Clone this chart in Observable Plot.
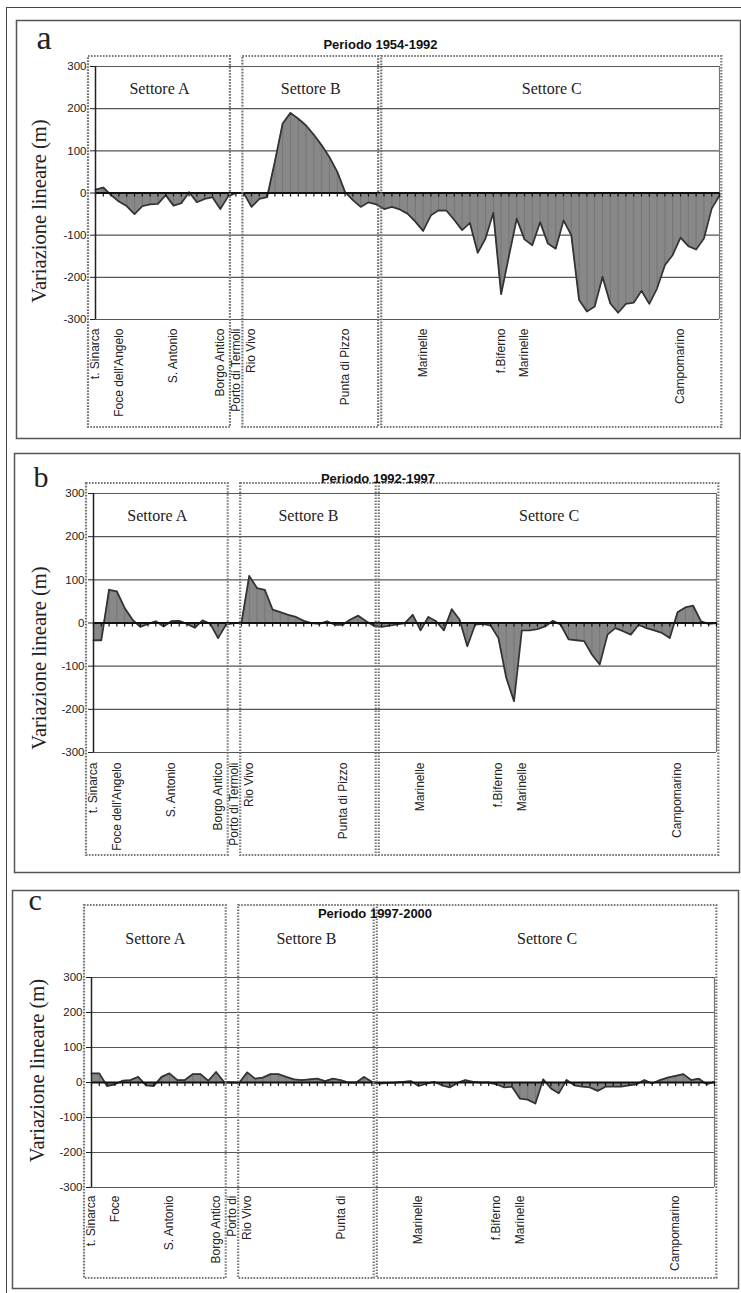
<!DOCTYPE html>
<html><head><meta charset="utf-8">
<script src="https://cdn.jsdelivr.net/npm/d3@7"></script>
<script src="https://cdn.jsdelivr.net/npm/@observablehq/plot@0.6"></script>
<style>
body{margin:0;background:#fff}
#fig{position:relative;width:741px;height:1293px;overflow:hidden;background:#fff}
#outer{position:absolute;left:6px;top:7px;width:740px;height:1290px;border-top:1.5px solid #444;border-left:1.5px solid #444;pointer-events:none}
</style></head><body><div id="fig"></div>
<script>
// transect index 0..80 along the coast
const transects = d3.range(81);
const values1954_1992 = [8,13,-5,-20,-31,-50,-31,-27,-26,-5,-30,-24,2,-22,-14,-10,-38,-8,0,0,
  -33,-14,-10,75,165,190,176,160,138,113,85,50,2,-17,-33,-22,-27,-38,-33,-39,
  -49,-68,-90,-53,-41,-42,-64,-88,-71,-142,-108,-47,-240,-150,-61,-110,-124,-69,-120,-132,
  -65,-100,-254,-281,-269,-199,-262,-284,-263,-260,-232,-263,-226,-171,-147,-106,-126,-134,-108,-37,-6];
const values1992_1997 = [-40,-40,77,73,35,8,-9,-2,4,-8,4,5,-2,-11,6,-2,-35,-4,0,0,
  109,81,77,31,25,19,14,5,0,-2,4,-4,-4,8,17,4,-6,-9,-6,-3,
  0,19,-17,14,4,-17,32,8,-54,-4,-2,-6,-35,-127,-181,-17,-17,-14,-8,5,
  -4,-38,-40,-42,-73,-96,-27,-12,-19,-27,-4,-12,-17,-23,-35,25,36,40,4,-2,0];
const values1997_2000 = [26,26,-10,-5,5,7,16,-8,-10,16,26,7,7,24,24,5,30,2,0,0,
  29,11,14,24,24,16,9,7,9,11,4,11,7,0,0,16,2,-3,-1,0,
  2,4,-10,-3,2,-8,-14,-1,7,2,0,0,-5,-14,-12,-46,-49,-60,9,-17,
  -31,7,-8,-12,-14,-24,-12,-12,-12,-8,-5,7,-3,7,14,19,24,7,11,-5,2];
const yTicks = [-300,-200,-100,0,100,200,300];
const sectorNames = ["Settore A","Settore B","Settore C"];
const sectorStart = [-0.9, 18.9, 36.7];
const sectorEnd = [17.3, 36.3, 80.3];
const placeIndex = [0,3,10,16,18,20,32,42,52,55,75];
const placesAB = ["t. Sinarca","Foce dell'Angelo","S. Antonio","Borgo Antico","Porto di Termoli","Rio Vivo","Punta di Pizzo","Marinelle","f.Biferno","Marinelle","Campomarino"];
const placesC = ["t. Sinarca","Foce","S. Antonio","Borgo Antico","Porto di","Rio Vivo","Punta di","Marinelle","f.Biferno","Marinelle","Campomarino"];
const letters = ["a","b","c"];
const periods = ["Periodo 1954-1992","Periodo 1992-1997","Periodo 1997-2000"];
const yTitle = "Variazione lineare (m)";

const series = [values1954_1992, values1992_1997, values1997_2000];
const placeSets = [placesAB, placesAB, placesC];
const sectors = sectorNames.map((n,k)=>({name:n, x1:sectorStart[k], x2:sectorEnd[k], mid:(sectorStart[k]+sectorEnd[k])/2}));

const layout = [
 {top:0, height:440, mt:66, mb:121, ml:95, mr:22, fr:[-79,-46,-21,-119], st:[-10,-108], let:[-59,-18,34], ti:[-27,-18], yt:[-50,18], sl:27, pd:9},
 {top:440, height:440, mt:53, mb:128, ml:93, mr:25, fr:[-79,-40,-23,-120], st:[-10,-103], let:[-60,-7,30], ti:[-27,-11], yt:[-48,35], sl:27, pd:10},
 {top:880, height:413, mt:97, mb:106, ml:91, mr:27, fr:[-79,-87,-24,-101], st:[-72,-91], let:[-63,-68,30], ti:[-28,-60], yt:[-48,-12], sl:-34, pd:8}
];

const fig = document.getElementById("fig");
const serif = "'Liberation Serif','Times New Roman',serif";
const sans = "'Liberation Sans',Arial,sans-serif";

layout.forEach((L,p)=>{
  const data = transects.map(i=>({i, v: series[p][i]}));
  const places = placeIndex.map((x,k)=>({x, name: placeSets[p][k]}));
  const chart = Plot.plot({
    width: 741, height: L.height,
    marginTop: L.mt, marginBottom: L.mb, marginLeft: L.ml, marginRight: L.mr,
    style: {fontFamily: sans, fontSize: "11.5px", color: "#222", background: "transparent", overflow: "visible"},
    x: {domain: [0, 80], axis: null},
    y: {domain: [-300, 300], ticks: yTicks, tickFormat: d => String(d), tickSize: 5, tickPadding: 4, label: null},
    marks: [
      Plot.frame({insetLeft: L.fr[0], insetTop: L.fr[1], insetRight: L.fr[2], insetBottom: L.fr[3], stroke: "#555", strokeWidth: 1.5}),
      Plot.ruleY(yTicks, {stroke: "#555", strokeWidth: 1.2}),
      Plot.ruleX([80], {stroke: "#777", strokeWidth: 1.2}),
      Plot.areaY(data, {x: "i", y: "v", fill: "#888"}),
      Plot.ruleX(data, {x: "i", y1: 0, y2: "v", stroke: "#727272", strokeWidth: 0.8}),
      Plot.lineY(data, {x: "i", y: "v", stroke: "#333", strokeWidth: 1.8}),
      Plot.ruleY([0], {stroke: "#111", strokeWidth: 2}),
      Plot.ruleX(transects, {x: d => d, y1: 0, y2: 0, insetBottom: -4, stroke: "#111", strokeWidth: 1.2}),
      Plot.ruleX([0], {stroke: "#222", strokeWidth: 1.5}),
      Plot.rect(sectors, {x1: "x1", x2: "x2", insetTop: L.st[0], insetBottom: L.st[1], fill: "none", stroke: "#777", strokeWidth: 2.2, strokeDasharray: "1.6,1.4"}),
      Plot.text(sectors, {x: "mid", text: "name", frameAnchor: "top", dy: L.sl, lineAnchor: "bottom", fontFamily: serif, fontSize: 16, fill: "#222"}),
      Plot.text(places, {x: "x", text: "name", frameAnchor: "bottom", dy: L.pd, rotate: -90, textAnchor: "end", lineAnchor: "middle", fontFamily: sans, fontSize: 12, fill: "#222"}),
      Plot.text([letters[p]], {text: d => d, frameAnchor: "top-left", dx: L.let[0], dy: L.let[1], textAnchor: "start", lineAnchor: "bottom", fontFamily: serif, fontSize: L.let[2], fill: "#222"}),
      Plot.text([periods[p]], {text: d => d, frameAnchor: "top", dx: L.ti[0], dy: L.ti[1], lineAnchor: "bottom", fontFamily: sans, fontSize: 13, fontWeight: "bold", fill: "#111"}),
      Plot.text([yTitle], {text: d => d, frameAnchor: "left", dx: L.yt[0], dy: L.yt[1], rotate: -90, textAnchor: "middle", lineAnchor: "bottom", fontFamily: serif, fontSize: 20.5, fill: "#222"})
    ]
  });
  chart.style.position = "absolute";
  chart.style.left = "0px";
  chart.style.top = L.top + "px";
  fig.appendChild(chart);
});
const outer = document.createElement("div");
outer.id = "outer";
fig.appendChild(outer);
</script>
</body></html>
